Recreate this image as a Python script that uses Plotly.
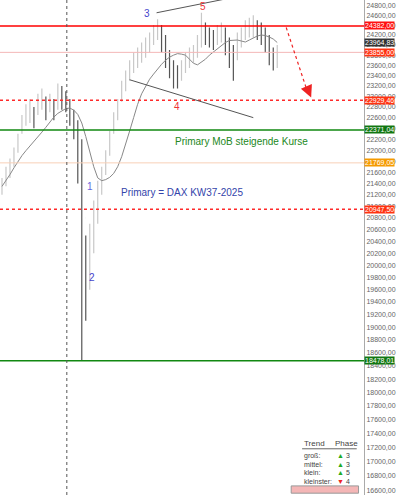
import math
import plotly.graph_objects as go

closes = [21380,21550,21700,21900,22150,22500,22650,22700,22600,22850,
          22950,22800,22900,22750,23000,22950,22900,22700,22500,22250,
          20800,19700,20200,20600,21200,21450,21800,22100,22500,22750,
          23100,23300,23500,23650,23750,23850,23950,24050,24200,24350,
          24150,23850,23600,23450,23350,23500,23650,23750,23800,23950,
          24300,24200,24150,24100,24200,24250,24100,23900,23600,24000,
          24150,24300,24350,24400,24300,24250,24150,23900,23700,23800]
highs = [21500,21700,21850,22050,22300,22650,22850,22950,22800,23050,
         23150,23000,23050,22950,23250,23200,23100,22950,22750,22550,
         22200,20500,20700,21100,21450,21700,22000,22350,22700,22950,
         23300,23500,23700,23850,23950,24050,24150,24250,24400,24520,
         24400,24200,23900,23700,23600,23700,23850,23950,24000,24200,
         24650,24450,24350,24300,24400,24450,24350,24150,24000,24250,
         24350,24500,24550,24600,24500,24450,24350,24200,23950,24000]
lows = [21200,21350,21500,21700,21950,22300,22450,22500,22400,22650,
        22750,22550,22700,22550,22750,22750,22700,22450,22200,21400,
        18478,19100,19600,20200,20700,21200,21550,21900,22300,22550,
        22900,23100,23300,23450,23550,23650,23750,23850,24000,24100,
        23850,23550,23350,23150,23150,23300,23450,23550,23650,23750,
        23950,24000,23950,23900,24000,24050,23800,23550,23300,23700,
        23950,24100,24150,24150,24100,24000,23850,23600,23500,23550]
ma = [21350,21450,21560,21680,21800,21900,21990,22080,22170,22250,
      22330,22420,22520,22610,22680,22730,22770,22780,22740,22660,
      22500,22250,21950,21700,21500,21450,21470,21510,21580,21700,
      21880,22100,22350,22600,22850,23050,23200,23330,23430,23530,
      23620,23700,23760,23800,23830,23820,23800,23720,23640,23610,
      23660,23720,23800,23860,23930,23990,24050,24090,24100,24100,
      24080,24060,24100,24140,24180,24200,24190,24160,24120,24050]
opens = [closes[0]] + closes[:-1]
xs = list(range(len(closes)))

levels = [24382.00, 23855.00, 22929.46, 22371.04, 21769.05, 20947.50, 18478.01]
level_colors = ["#ff0000", "#f4b8b8", "#ff2a2a", "#118811", "#f8d0b8", "#ff2a2a", "#118811"]
level_dash = ["solid", "solid", "dot", "solid", "solid", "dot", "solid"]
level_width = [1.5, 1, 1.5, 1.5, 1, 1.5, 1.5]
label_bg = ["#ff1111", "#ff3311", "#ff3311", "#117711", "#f59a00", "#ff3311", "#117711"]
current_price = 23964.83
tick_vals = list(range(16600, 25000, 200))
tick_text = [f"{v},00" for v in tick_vals]

fig = go.Figure()
fig.add_trace(go.Ohlc(x=xs, open=opens, high=highs, low=lows, close=closes,
                      increasing=dict(line=dict(color="#c8c8c8", width=1.2)),
                      decreasing=dict(line=dict(color="#555555", width=1.2)),
                      tickwidth=0.01, hoverinfo="skip"))
fig.add_trace(go.Scatter(x=xs, y=ma, mode="lines", line=dict(color="#888888", width=1), hoverinfo="skip"))

for v, c, d, w in zip(levels, level_colors, level_dash, level_width):
    fig.add_shape(type="line", xref="paper", x0=0, x1=1, y0=v, y1=v, line=dict(color=c, dash=d, width=w))

L = math.log10
ann = []
for v, bg in zip(levels, label_bg):
    ann.append(dict(x=1.0, xref="paper", y=L(v), yref="y", text=f"{v:.2f}".replace(".", ","),
                    showarrow=False, xanchor="left", font=dict(size=7, color="white"),
                    bgcolor=bg, borderpad=0))
ann.append(dict(x=1.0, xref="paper", y=L(current_price), yref="y", text=f"{current_price:.2f}".replace(".", ","),
                showarrow=False, xanchor="left", yanchor="bottom", font=dict(size=7, color="white"), bgcolor="#333333", borderpad=0))

def P(px):
    return px / 4.0

for txt, px, val, col in [("3", 145, 24640, "#4444cc"), ("5", 202, 24780, "#ee3333"),
                          ("4", 175, 22800, "#ee3333"), ("1", 88, 21350, "#6666dd"),
                          ("2", 90, 19800, "#4444cc")]:
    ann.append(dict(x=P(px), y=L(val), text=txt, showarrow=False, font=dict(size=10, color=col)))
ann.append(dict(x=P(240), y=L(22150), text="Primary MoB steigende Kurse", showarrow=False,
                font=dict(size=10, color="#228822", family="Liberation Sans")))
ann.append(dict(x=P(180), y=L(21250), text="Primary = DAX KW37-2025", showarrow=False,
                font=dict(size=10, color="#3344aa", family="Liberation Sans")))
tx = 0.83
ann.append(dict(x=tx, xref="paper", y=L(17250), text="Trend", showarrow=False, xanchor="left", font=dict(size=8, color="#444")))
ann.append(dict(x=0.915, xref="paper", y=L(17250), text="Phase", showarrow=False, xanchor="left", font=dict(size=8, color="#444")))
rows = [("groß:", "▲", "3", "#22aa22"), ("mittel:", "▲", "3", "#22aa22"),
        ("klein:", "▲", "5", "#22aa22"), ("kleinster:", "▼", "4", "#ee2222")]
for k, (n, s, p, c) in enumerate(rows):
    yv = [17080, 16960, 16840, 16720][k]
    ann.append(dict(x=tx, xref="paper", y=L(yv), text=n, showarrow=False, xanchor="left", font=dict(size=7, color="#444")))
    ann.append(dict(x=0.92, xref="paper", y=L(yv), text=f"<span style='color:{c}'>{s}</span> {p}", showarrow=False,
                    xanchor="left", font=dict(size=7, color="#444")))
fig.add_shape(type="line", xref="paper", x0=0.83, x1=0.98, y0=17180, y1=17180, line=dict(color="#666", width=1))
fig.add_shape(type="rect", xref="paper", x0=0.80, x1=0.985, y0=16560, y1=16660,
              line=dict(color="#999", width=1), fillcolor="#f4b6b6")

fig.add_shape(type="line", x0=P(155), x1=P(233), y0=24650, y1=24970, line=dict(color="#555", width=1))
fig.add_shape(type="line", x0=P(128), x1=P(252), y0=23320, y1=22600, line=dict(color="#555", width=1))
fig.add_shape(type="line", x0=P(65), x1=P(65), yref="paper", y0=0, y1=1, line=dict(color="#555", width=1, dash="dot"))
fig.add_shape(type="line", x0=P(285), x1=P(307), y0=24350, y1=23050, line=dict(color="#ee2222", width=1.2, dash="dot"))
ann.append(dict(x=P(310), y=L(22980), ax=P(305), ay=L(23200), axref="x", ayref="y", text="", showarrow=True,
                arrowhead=2, arrowsize=1.6, arrowwidth=1.5, arrowcolor="#ee2222"))

fig.update_layout(width=400, height=495, margin=dict(l=0, r=36, t=0, b=0),
                  plot_bgcolor="white", paper_bgcolor="white", showlegend=False,
                  annotations=ann, font=dict(family="Liberation Sans"))
fig.update_xaxes(range=[-0.5, 363 / 4], showgrid=False, showticklabels=False, zeroline=False,
                 rangeslider=dict(visible=False), fixedrange=True)
fig.update_yaxes(type="log", range=[L(16535), L(24912)], side="right", tickvals=tick_vals, ticktext=tick_text,
                 tickfont=dict(size=7, color="#666"), showgrid=False, showline=True, linecolor="#aaa",
                 ticks="", zeroline=False)
fig.write_html("out.html", config={"displayModeBar": False},
               post_script="document.body.style.margin='0';")
